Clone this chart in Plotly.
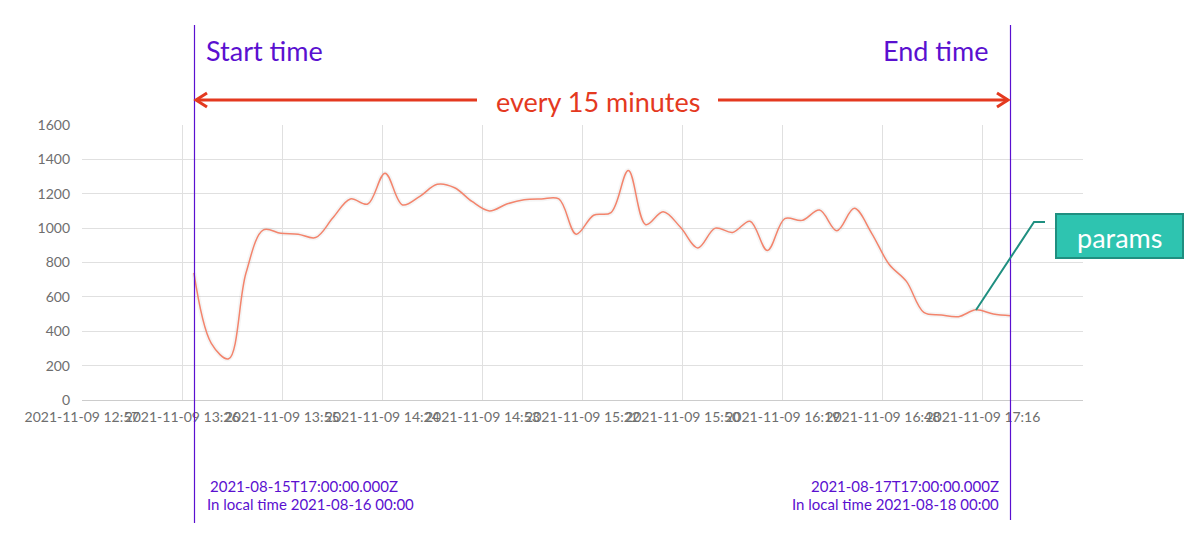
import plotly.graph_objects as go
import pandas as pd

# ---- data ----
start_time = "2021-11-09 13:30"
step_minutes = 5
values = [740, 330, 240, 740, 990, 970, 965, 945, 1060, 1170, 1140, 1320,
          1135, 1185, 1255, 1235, 1155, 1100, 1140, 1165, 1170, 1170, 965, 1075,
          1090, 1335, 1020, 1095, 1005, 885, 1000, 975, 1040, 870, 1055, 1045,
          1105, 985, 1115, 970, 790, 690, 510, 495, 485, 525, 500, 490]
times = pd.date_range(start_time, periods=len(values), freq=f"{step_minutes}min")

axis_start = pd.Timestamp("2021-11-09 12:57:48")
tick_step_min = 28.8
tick_labels = ["2021-11-09 12:57", "2021-11-09 13:26", "2021-11-09 13:55", "2021-11-09 14:24",
               "2021-11-09 14:53", "2021-11-09 15:22", "2021-11-09 15:50", "2021-11-09 16:19",
               "2021-11-09 16:48", "2021-11-09 17:16"]
tick_vals = [axis_start + pd.Timedelta(minutes=tick_step_min * k) for k in range(len(tick_labels))]
axis_end = axis_start + pd.Timedelta(minutes=tick_step_min * 10)

y_ticks = list(range(0, 1601, 200))

# ---- layout geometry (screen pixels; page body has an 8px margin) ----
OFF = 8
W, H = 1185, 529
L, R, T, B = 82, 1083, 125, 400
def px(x):
    return (x - L) / (R - L)
def py(y):
    return (B - y) / (B - T)

PURPLE = "#5a10d0"
RED = "#e4391f"
TEAL = "#2ec4b0"
TEAL_D = "#1f8f80"
FONT = "Lato"

fig = go.Figure()
fig.add_trace(go.Scatter(x=times, y=values, mode="lines",
                         line=dict(color="rgba(0,0,0,0.04)", width=5, shape="spline", smoothing=1),
                         hoverinfo="skip", showlegend=False))
fig.add_trace(go.Scatter(x=times, y=values, mode="lines",
                         line=dict(color="#f3846c", width=1.5, shape="spline", smoothing=1),
                         showlegend=False, name="params"))

shapes = []
shapes.append(dict(type="line", xref="paper", yref="paper", x0=px(194.5), x1=px(194.5),
                   y0=py(25), y1=py(523), line=dict(color=PURPLE, width=1.2)))
shapes.append(dict(type="line", xref="paper", yref="paper", x0=px(1010.5), x1=px(1010.5),
                   y0=py(25), y1=py(520), line=dict(color=PURPLE, width=1.2)))
def path(points):
    return "M " + " L ".join(f"{px(a)},{py(b)}" for a, b in points)
for pts in ([(196, 100), (477, 100)], [(207, 93), (196, 100), (207, 107)],
            [(718, 100), (1008, 100)], [(997, 93), (1008, 100), (997, 107)]):
    shapes.append(dict(type="path", xref="paper", yref="paper", path=path(pts),
                       line=dict(color=RED, width=3)))
shapes.append(dict(type="path", xref="paper", yref="paper",
                   path=path([(976, 310), (1034, 222), (1045, 222)]),
                   line=dict(color=TEAL_D, width=2)))
shapes.append(dict(type="rect", xref="paper", yref="paper", x0=px(1056), x1=px(1183),
                   y0=py(258), y1=py(214), fillcolor=TEAL, line=dict(color=TEAL_D, width=2)))

annotations = [
    dict(text="Start time", x=px(204), y=py(50), xanchor="left", yanchor="middle",
         font=dict(size=27, color=PURPLE, family=FONT)),
    dict(text="End time", x=px(990), y=py(50), xanchor="right", yanchor="middle",
         font=dict(size=27, color=PURPLE, family=FONT)),
    dict(text="every 15 minutes", x=px(598), y=py(101), xanchor="center", yanchor="middle",
         font=dict(size=27, color=RED, family=FONT)),
    dict(text="params", x=px(1119), y=py(237), xanchor="center", yanchor="middle",
         font=dict(size=27, color="white", family=FONT)),
    dict(text="2021-08-15T17:00:00.000Z", x=px(208), y=py(486), xanchor="left", yanchor="middle",
         font=dict(size=15, color=PURPLE, family=FONT)),
    dict(text="In local time 2021-08-16 00:00", x=px(205), y=py(504), xanchor="left", yanchor="middle",
         font=dict(size=15, color=PURPLE, family=FONT)),
    dict(text="2021-08-17T17:00:00.000Z", x=px(1001), y=py(486), xanchor="right", yanchor="middle",
         font=dict(size=15, color=PURPLE, family=FONT)),
    dict(text="In local time 2021-08-18 00:00", x=px(1001), y=py(504), xanchor="right", yanchor="middle",
         font=dict(size=15, color=PURPLE, family=FONT)),
]
for a in annotations:
    a.update(xref="paper", yref="paper", showarrow=False)

fig.update_layout(
    width=W, height=H, autosize=False,
    margin=dict(l=L - OFF, r=W - (R - OFF), t=T - OFF, b=H - (B - OFF), pad=0),
    paper_bgcolor="white", plot_bgcolor="white",
    shapes=shapes, annotations=annotations,
    font=dict(family=FONT, color="#6e6e6e", size=14),
    xaxis=dict(type="date", range=[axis_start, axis_end], tickmode="array",
               tickvals=tick_vals, ticktext=tick_labels, tickangle=0,
               showgrid=True, gridcolor="#e0e0e0",
               showline=True, linecolor="#cccccc", linewidth=1, ticks="", ticklen=0,
               ticklabelstandoff=4,
               tickfont=dict(size=14, color="#6e6e6e"), zeroline=False, fixedrange=True),
    yaxis=dict(range=[0, 1600], tickmode="array", tickvals=y_ticks,
               showgrid=True, gridcolor="#e0e0e0", zeroline=False, showline=False,
               ticks="", ticklabelstandoff=11,
               tickfont=dict(size=14, color="#6e6e6e"), fixedrange=True),
)

fig.write_html("out.html", config={"displayModeBar": False})
